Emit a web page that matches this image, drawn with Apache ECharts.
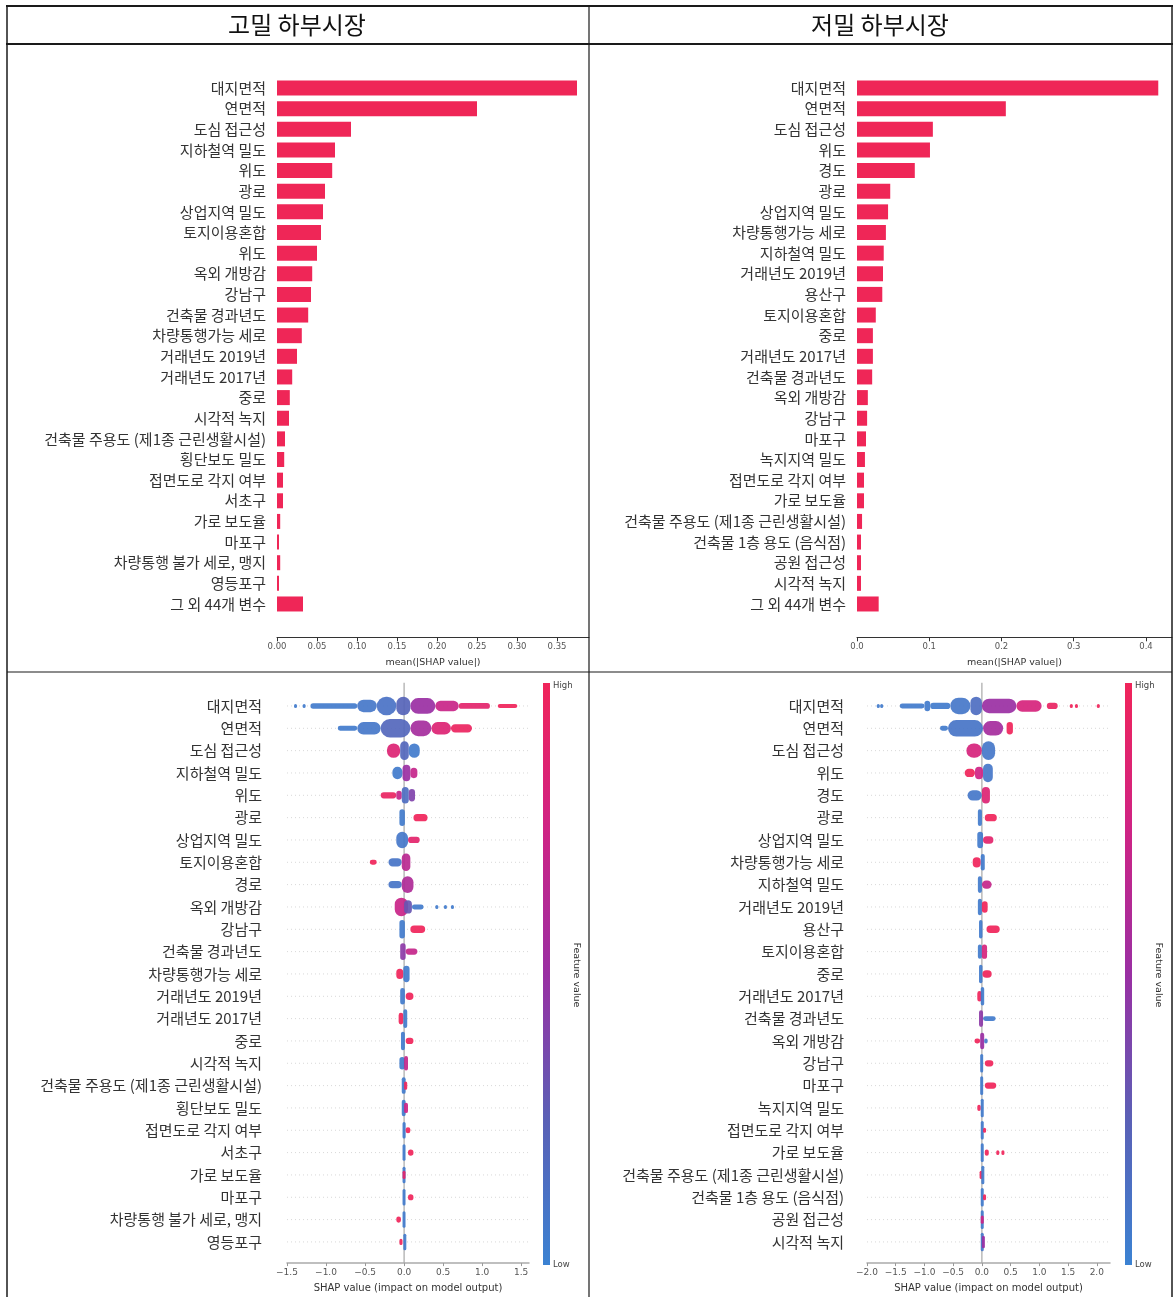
<!DOCTYPE html>
<html><head><meta charset="utf-8">
<script src="https://cdn.jsdelivr.net/npm/echarts@6/dist/echarts.min.js"></script>
<style>html,body{margin:0;padding:0;background:#fff}#c{width:1173px;height:1297px}</style>
</head><body><div id="c"></div>
<script>
// ---------- DATA ----------
const panelTitles = ['고밀 하부시장', '저밀 하부시장'];

const tlCats = ['대지면적','연면적','도심 접근성','지하철역 밀도','위도','광로','상업지역 밀도','토지이용혼합','위도','옥외 개방감','강남구','건축물 경과년도','차량통행가능 세로','거래년도 2019년','거래년도 2017년','중로','시각적 녹지','건축물 주용도 (제1종 근린생활시설)','횡단보도 밀도','접면도로 각지 여부','서초구','가로 보도율','마포구','차량통행 불가 세로, 맹지','영등포구','그 외 44개 변수'];
const tlVals = [0.375,0.250,0.0925,0.0725,0.069,0.060,0.0575,0.055,0.050,0.044,0.0425,0.039,0.031,0.025,0.019,0.016,0.015,0.010,0.009,0.0075,0.0075,0.004,0.0025,0.004,0.0025,0.0325];

const trCats = ['대지면적','연면적','도심 접근성','위도','경도','광로','상업지역 밀도','차량통행가능 세로','지하철역 밀도','거래년도 2019년','용산구','토지이용혼합','중로','거래년도 2017년','건축물 경과년도','옥외 개방감','강남구','마포구','녹지지역 밀도','접면도로 각지 여부','가로 보도율','건축물 주용도 (제1종 근린생활시설)','건축물 1층 용도 (음식점)','공원 접근성','시각적 녹지','그 외 44개 변수'];
const trVals = [0.417,0.206,0.105,0.101,0.080,0.046,0.043,0.040,0.037,0.036,0.035,0.026,0.022,0.022,0.021,0.015,0.014,0.0125,0.011,0.0097,0.0097,0.007,0.0055,0.0055,0.0055,0.030];

const blCats = ['대지면적','연면적','도심 접근성','지하철역 밀도','위도','광로','상업지역 밀도','토지이용혼합','경로','옥외 개방감','강남구','건축물 경과년도','차량통행가능 세로','거래년도 2019년','거래년도 2017년','중로','시각적 녹지','건축물 주용도 (제1종 근린생활시설)','횡단보도 밀도','접면도로 각지 여부','서초구','가로 보도율','마포구','차량통행 불가 세로, 맹지','영등포구'];
const brCats = ['대지면적','연면적','도심 접근성','위도','경도','광로','상업지역 밀도','차량통행가능 세로','지하철역 밀도','거래년도 2019년','용산구','토지이용혼합','중로','거래년도 2017년','건축물 경과년도','옥외 개방감','강남구','마포구','녹지지역 밀도','접면도로 각지 여부','가로 보도율','건축물 주용도 (제1종 근린생활시설)','건축물 1층 용도 (음식점)','공원 접근성','시각적 녹지'];

// SHAP clusters per feature row: [shapFrom, shapTo, pointDensity(0-0.5), featureValue(0 low - 1 high)]
const blClusters = [
 [[-1.41,-1.38,0.1,0.05],[-1.30,-1.27,0.1,0.05],[-1.2,-0.6,0.13,0.05],[-0.6,-0.35,0.3,0.08],[-0.35,-0.1,0.45,0.12],[-0.1,0.08,0.45,0.22],[0.08,0.4,0.38,0.5],[0.4,0.7,0.25,0.72],[0.7,1.1,0.14,0.9],[1.2,1.45,0.1,1.0]],
 [[-0.85,-0.6,0.12,0.05],[-0.6,-0.3,0.3,0.08],[-0.3,0.08,0.45,0.2],[0.08,0.35,0.38,0.55],[0.35,0.6,0.3,0.85],[0.6,0.87,0.2,0.97]],
 [[-0.22,-0.05,0.35,0.85],[-0.05,0.06,0.45,0.2],[0.06,0.2,0.35,0.05]],
 [[-0.15,-0.02,0.3,0.05],[-0.02,0.08,0.4,0.5],[0.08,0.17,0.25,0.7]],
 [[-0.3,-0.1,0.15,0.95],[-0.1,-0.03,0.22,0.7],[-0.03,0.06,0.4,0.15],[0.06,0.14,0.3,0.4]],
 [[-0.06,0.01,0.4,0.05],[0.12,0.3,0.18,1.0]],
 [[-0.1,0.05,0.4,0.08],[0.05,0.2,0.15,0.9]],
 [[-0.44,-0.35,0.12,1.0],[-0.2,-0.03,0.2,0.1],[-0.03,0.08,0.42,0.65]],
 [[-0.2,-0.03,0.18,0.1],[-0.03,0.12,0.4,0.6]],
 [[-0.12,0.05,0.45,0.72],[0.0,0.1,0.32,0.3],[0.1,0.25,0.12,0.05],[0.4,0.43,0.1,0.05],[0.51,0.54,0.1,0.05],[0.6,0.63,0.1,0.05]],
 [[-0.06,0.01,0.45,0.05],[0.08,0.27,0.18,1.0]],
 [[-0.05,0.02,0.4,0.45],[0.02,0.17,0.15,0.7]],
 [[-0.1,-0.01,0.25,1.0],[-0.01,0.07,0.4,0.05]],
 [[-0.05,0.01,0.4,0.05],[0.02,0.12,0.18,1.0]],
 [[-0.07,-0.01,0.28,1.0],[-0.01,0.04,0.45,0.05]],
 [[-0.04,0.01,0.45,0.05],[0.02,0.12,0.15,1.0]],
 [[-0.06,0.01,0.3,0.05],[0.0,0.05,0.35,0.7]],
 [[-0.03,0.02,0.4,0.05],[0.0,0.04,0.2,1.0]],
 [[-0.03,0.02,0.4,0.05],[0.0,0.05,0.25,0.75]],
 [[-0.02,0.02,0.4,0.05],[0.02,0.08,0.15,1.0]],
 [[-0.02,0.01,0.4,0.05],[0.05,0.12,0.15,1.0]],
 [[-0.02,0.01,0.4,0.05],[-0.02,0.0,0.2,0.9]],
 [[-0.02,0.01,0.4,0.05],[0.05,0.12,0.15,1.0]],
 [[-0.1,-0.04,0.15,1.0],[-0.02,0.01,0.4,0.05]],
 [[-0.06,-0.02,0.15,1.0],[-0.01,0.02,0.4,0.05]]
];
const brClusters = [
 [[-1.83,-1.80,0.1,0.05],[-1.77,-1.74,0.1,0.05],[-1.43,-1.0,0.12,0.05],[-1.0,-0.9,0.25,0.05],[-0.9,-0.55,0.15,0.05],[-0.55,-0.2,0.4,0.08],[-0.2,0.0,0.45,0.15],[0.0,0.6,0.35,0.5],[0.6,1.04,0.28,0.8],[1.13,1.32,0.15,0.95],[1.53,1.56,0.1,1.0],[1.62,1.65,0.1,1.0],[2.0,2.04,0.1,1.0]],
 [[-0.73,-0.59,0.12,0.05],[-0.59,0.02,0.4,0.1],[0.02,0.37,0.35,0.55],[0.43,0.54,0.3,1.0]],
 [[-0.27,0.0,0.35,0.8],[0.0,0.23,0.45,0.08]],
 [[-0.3,-0.12,0.2,1.0],[-0.12,0.02,0.3,0.75],[0.02,0.19,0.45,0.08]],
 [[-0.25,0.0,0.25,0.08],[0.0,0.14,0.4,0.85]],
 [[-0.07,0.0,0.4,0.05],[0.05,0.26,0.18,1.0]],
 [[-0.08,0.02,0.4,0.05],[0.02,0.2,0.18,0.9]],
 [[-0.16,-0.02,0.25,1.0],[-0.02,0.05,0.4,0.05]],
 [[-0.07,0.0,0.4,0.05],[0.0,0.17,0.2,0.7]],
 [[-0.07,0.0,0.4,0.05],[0.0,0.1,0.28,1.0]],
 [[-0.05,0.01,0.45,0.05],[0.08,0.31,0.18,1.0]],
 [[-0.07,0.0,0.35,0.05],[0.0,0.09,0.35,0.8]],
 [[-0.05,0.01,0.45,0.05],[0.01,0.17,0.18,1.0]],
 [[-0.08,0.0,0.25,1.0],[-0.02,0.04,0.45,0.05]],
 [[-0.05,0.02,0.4,0.45],[0.02,0.24,0.12,0.05]],
 [[-0.13,-0.03,0.12,1.0],[-0.03,0.04,0.4,0.5],[0.04,0.1,0.12,0.05]],
 [[-0.03,0.02,0.45,0.05],[0.05,0.2,0.15,1.0]],
 [[-0.03,0.02,0.45,0.05],[0.05,0.25,0.15,1.0]],
 [[-0.08,-0.02,0.15,1.0],[-0.02,0.02,0.45,0.05]],
 [[-0.02,0.02,0.45,0.05],[0.02,0.05,0.12,1.0]],
 [[-0.02,0.02,0.45,0.05],[0.05,0.12,0.15,1.0],[0.25,0.28,0.12,1.0],[0.34,0.37,0.12,1.0]],
 [[-0.04,-0.01,0.2,1.0],[-0.01,0.02,0.45,0.05]],
 [[-0.02,0.02,0.45,0.05],[0.02,0.06,0.15,1.0]],
 [[-0.02,0.02,0.45,0.05],[-0.02,0.02,0.2,0.75]],
 [[-0.02,0.02,0.45,0.08],[0.0,0.03,0.3,0.5]]
];

const tlTicks = [0, 0.05, 0.10, 0.15, 0.20, 0.25, 0.30, 0.35];
const trTicks = [0, 0.1, 0.2, 0.3, 0.4];
const blTicks = [-1.5, -1.0, -0.5, 0, 0.5, 1.0, 1.5];
const brTicks = [-2.0, -1.5, -1.0, -0.5, 0, 0.5, 1.0, 1.5, 2.0];

// ---------- CHART ----------
const FONT = '"Noto Sans CJK KR", "Noto Sans", sans-serif';
const BAR = '#ef2657';
const CMAP = ['#3b82d2', '#5a60b6', '#9a2fa3', '#cf2384', '#f0245a'];

function flat(cl) { const out = []; cl.forEach((row, i) => row.forEach(c => out.push([i, c[0], c[1], c[2], c[3]]))); return out; }
const minus = v => (v < 0 ? '\u2212' : '') + Math.abs(v).toFixed(1);

function renderBlob(params, api) {
  const r = api.value(0), x0 = api.value(1), x1 = api.value(2), d = api.value(3);
  const p0 = api.coord([x0, r]), p1 = api.coord([x1, r]);
  const band = api.size([0, 1])[1];
  const h = Math.max(2, 1.85 * d * band);
  const w = Math.max(p1[0] - p0[0], 3);
  return { type: 'rect', shape: { x: p0[0], y: p0[1] - h / 2, width: w, height: h, r: Math.min(h / 2, w / 2) },
           style: { fill: api.visual('color'), opacity: 0.92 } };
}
function renderGuide(params, api) {
  const cs = params.coordSys;
  const y = api.coord([0, api.value(0)])[1];
  const children = [{ type: 'line', shape: { x1: cs.x, y1: y, x2: cs.x + cs.width, y2: y },
                      style: { stroke: '#d8d8d8', lineWidth: 1, lineDash: [1, 3] } }];
  if (params.dataIndex === 0) {
    const x0 = api.coord([0, 0])[0];
    children.push({ type: 'line', z2: 5, shape: { x1: x0, y1: cs.y - 12, x2: x0, y2: cs.y + cs.height + 10 },
                    style: { stroke: '#a8a8a8', lineWidth: 1.2 } });
  }
  return { type: 'group', children };
}

const topBand = { top: 77.7, height: 536.6 };
const botBand = { top: 694.8, height: 558.3 };

function barX(grid, max, ticks, dec) {
  return { type: 'value', gridIndex: grid, min: 0, max: max, offset: 23,
    axisLine: { show: true, lineStyle: { color: '#333', width: 1 } },
    axisTick: { show: true, length: 4, customValues: ticks, lineStyle: { color: '#333' } },
    axisLabel: { customValues: ticks, formatter: v => v.toFixed(dec), fontSize: 8.5, color: '#555', margin: 5, fontFamily: 'DejaVu Sans' },
    splitLine: { show: false },
    name: 'mean(|SHAP value|)', nameLocation: 'middle', nameGap: 20,
    nameTextStyle: { fontSize: 9.5, color: '#333', fontFamily: 'DejaVu Sans' } };
}
function barY(grid, cats) {
  return { type: 'category', gridIndex: grid, data: cats, inverse: true,
    axisLine: { show: false }, axisTick: { show: false },
    axisLabel: { fontSize: 15, color: '#333', margin: 11, fontFamily: FONT } };
}
function swX(grid, min, max, ticks) {
  return { type: 'value', gridIndex: grid, min: min, max: max, offset: 10,
    axisLine: { show: true, lineStyle: { color: '#aaa', width: 1.5 } },
    axisTick: { show: true, length: 3, customValues: ticks, lineStyle: { color: '#999' } },
    axisLabel: { customValues: ticks, formatter: minus, fontSize: 9, color: '#555', margin: 5, fontFamily: 'DejaVu Sans' },
    splitLine: { show: false },
    name: 'SHAP value (impact on model output)', nameLocation: 'middle', nameGap: 20,
    nameTextStyle: { fontSize: 10, color: '#333', fontFamily: 'DejaVu Sans' } };
}
function swY(grid, cats, margin) {
  return { type: 'category', gridIndex: grid, data: cats, inverse: true,
    axisLine: { show: false }, axisTick: { show: false },
    axisLabel: { fontSize: 15, color: '#333', margin: margin, fontFamily: FONT } };
}

const grad = { type: 'linear', x: 0, y: 0, x2: 0, y2: 1,
  colorStops: CMAP.slice().reverse().map((c, i, a) => ({ offset: i / (a.length - 1), color: c })) };

function colorbar(x, tx) {
  return [
    { type: 'rect', shape: { x: x, y: 683, width: 7, height: 582 }, style: { fill: grad } },
    { type: 'text', x: x + 10, y: 681, style: { text: 'High', fontSize: 8.5, fill: '#444', fontFamily: 'DejaVu Sans' } },
    { type: 'text', x: x + 10, y: 1260, style: { text: 'Low', fontSize: 8.5, fill: '#444', fontFamily: 'DejaVu Sans' } },
    { type: 'text', x: tx, y: 975, rotation: -Math.PI / 2,
      style: { text: 'Feature value', fontSize: 9.5, fill: '#333', align: 'center', verticalAlign: 'middle', fontFamily: 'DejaVu Sans' } }
  ];
}
const L = (x1, y1, x2, y2, w) => ({ type: 'line', shape: { x1, y1, x2, y2 }, style: { stroke: '#1a1a1a', lineWidth: w }, z: 100 });

const option = {
  animation: false,
  backgroundColor: '#fff',
  textStyle: { fontFamily: FONT },
  grid: [
    { left: 277, width: 312, top: topBand.top, height: topBand.height },
    { left: 857, width: 315, top: topBand.top, height: topBand.height },
    { left: 287, width: 242, top: botBand.top, height: botBand.height },
    { left: 867, width: 243, top: botBand.top, height: botBand.height }
  ],
  xAxis: [ barX(0, 0.39, tlTicks, 2), barX(1, 0.436, trTicks, 1), swX(2, -1.5, 1.6, blTicks), swX(3, -2.0, 2.23, brTicks) ],
  yAxis: [ barY(0, tlCats), barY(1, trCats), swY(2, blCats, 25), swY(3, brCats, 23) ],
  visualMap: [{ show: false, type: 'continuous', min: 0, max: 1, dimension: 4, seriesIndex: [4, 5], inRange: { color: CMAP } }],
  series: [
    { type: 'bar', xAxisIndex: 0, yAxisIndex: 0, data: tlVals, barWidth: 15, itemStyle: { color: BAR } },
    { type: 'bar', xAxisIndex: 1, yAxisIndex: 1, data: trVals, barWidth: 15, itemStyle: { color: BAR } },
    { type: 'custom', xAxisIndex: 2, yAxisIndex: 2, data: blCats.map((c, i) => [i]), renderItem: renderGuide, encode: { y: 0 }, z: 1, silent: true },
    { type: 'custom', xAxisIndex: 3, yAxisIndex: 3, data: brCats.map((c, i) => [i]), renderItem: renderGuide, encode: { y: 0 }, z: 1, silent: true },
    { type: 'custom', xAxisIndex: 2, yAxisIndex: 2, data: flat(blClusters), renderItem: renderBlob, encode: { x: [1, 2], y: 0 }, z: 3 },
    { type: 'custom', xAxisIndex: 3, yAxisIndex: 3, data: flat(brClusters), renderItem: renderBlob, encode: { x: [1, 2], y: 0 }, z: 3 }
  ],
  graphic: [
    L(6, 6, 1173, 6, 2), L(6, 44, 1173, 44, 2), L(7, 5, 7, 1297, 1.5), L(1172, 5, 1172, 1297, 1.5),
    L(589, 5, 589, 1297, 1.2), L(7, 672, 1172, 672, 1.2),
    { type: 'text', x: 297, y: 25, style: { text: panelTitles[0], fontSize: 24, fill: '#111', align: 'center', verticalAlign: 'middle', fontFamily: FONT } },
    { type: 'text', x: 880, y: 25, style: { text: panelTitles[1], fontSize: 24, fill: '#111', align: 'center', verticalAlign: 'middle', fontFamily: FONT } },
    ...colorbar(543, 576), ...colorbar(1125, 1158)
  ]
};
const chart = echarts.init(document.getElementById('c'), null, { renderer: 'canvas' });
chart.setOption(option);
</script></body></html>
